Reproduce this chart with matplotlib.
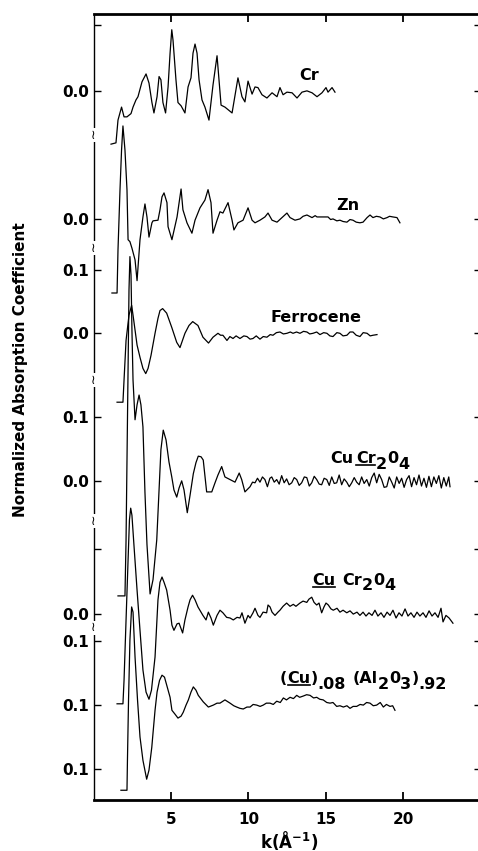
import matplotlib
matplotlib.use("Agg")
import matplotlib.pyplot as plt
from matplotlib.lines import Line2D

plt.rcParams['font.family'] = ['DejaVu Sans']
plt.rcParams['font.weight'] = 'bold'
plt.rcParams['mathtext.fontset'] = 'dejavusans'
plt.rcParams['mathtext.default'] = 'bf'

# ---------------- data: (k [1/A], normalized absorption relative to curve's zero) -------------
CR = [(1.13,-0.082),(1.45,-0.080),(1.58,-0.045),(1.81,-0.025),(1.97,-0.040),(2.16,-0.040),
      (2.42,-0.035),(2.55,-0.025),(2.74,-0.014),(2.87,-0.009),(3.13,0.014),(3.39,0.026),
      (3.58,0.012),(3.77,-0.018),(3.90,-0.034),(4.10,-0.009),(4.23,0.022),(4.35,0.017),
      (4.48,-0.018),(4.65,-0.034),(4.81,0.006),(4.94,0.058),(5.05,0.094),(5.13,0.078),
      (5.32,0.017),(5.45,-0.018),(5.65,-0.023),(5.90,-0.034),(6.10,0.006),(6.29,0.020),
      (6.42,0.058),(6.55,0.072),(6.68,0.058),(6.81,0.017),(7.00,-0.014),(7.19,-0.025),
      (7.45,-0.045),(7.71,0.009),(7.97,0.054),(8.23,-0.022),(8.48,-0.025),(8.94,-0.034),
      (9.32,0.020),(9.58,-0.009),(9.77,-0.017),(9.97,0.015),(10.23,-0.005),(10.42,0.006),
      (10.61,0.005),(10.87,-0.006),(11.19,-0.011),(11.52,-0.003),(11.84,-0.009),(12.03,0.005),
      (12.23,-0.006),(12.48,-0.002),(12.81,-0.003),(13.13,-0.011),(13.45,-0.002),(13.77,0.000),
      (14.10,-0.003),(14.42,-0.009),(14.74,-0.003),(15.00,0.005),(15.13,-0.002),(15.39,0.005),
      (15.58,-0.002)]

ZN = [(1.19,-0.114),(1.52,-0.114),(1.58,-0.048),(1.71,0.045),(1.81,0.106),(1.90,0.143),
      (2.03,0.106),(2.16,0.045),(2.23,-0.032),(2.35,-0.035),(2.48,-0.045),(2.68,-0.063),
      (2.81,-0.095),(3.00,-0.032),(3.19,0.003),(3.32,0.023),(3.45,0.003),(3.58,-0.028),
      (3.77,-0.006),(3.84,-0.003),(4.16,-0.002),(4.29,0.014),(4.42,0.034),(4.55,0.040),
      (4.74,0.025),(4.81,-0.012),(5.06,-0.032),(5.39,0.003),(5.65,0.046),(5.77,0.014),
      (6.03,-0.006),(6.35,-0.022),(6.55,-0.002),(6.87,0.017),(7.19,0.029),(7.39,0.045),
      (7.58,0.025),(7.71,-0.022),(7.97,-0.002),(8.16,0.011),(8.35,0.009),(8.68,0.025),
      (8.94,-0.002),(9.06,-0.017),(9.32,-0.006),(9.65,-0.002),(9.97,0.017),(10.23,-0.002),
      (10.42,-0.006),(10.74,-0.002),(11.06,0.003),(11.26,0.009),(11.52,-0.002),(11.84,-0.005),
      (12.16,0.002),(12.48,0.009),(12.68,0.002),(13.00,-0.002),(13.32,0.000),(13.52,0.004),
      (13.77,0.006),(14.10,0.002),(14.30,0.005),(14.42,0.003),(14.81,0.003),(15.13,0.003),
      (15.30,-0.001),(15.45,0.000),(15.70,-0.003),(15.90,-0.002),(16.10,-0.004),(16.35,-0.005),
      (16.55,-0.001),(16.74,-0.002),(16.95,-0.005),(17.19,-0.006),(17.39,-0.005),(17.65,0.002),
      (17.84,0.006),(18.03,0.002),(18.25,0.004),(18.48,0.003),(18.70,0.000),(18.94,0.002),
      (19.10,0.004),(19.32,0.003),(19.58,0.002),(19.77,-0.006)]

FERROCENE = [(1.52,-0.106),(1.90,-0.106),(1.97,-0.072),(2.10,-0.011),(2.29,0.028),(2.46,0.043),
      (2.55,0.028),(2.68,0.005),(2.81,-0.018),(3.00,-0.037),(3.19,-0.054),(3.37,-0.062),
      (3.52,-0.054),(3.71,-0.034),(3.97,0.000),(4.16,0.023),(4.29,0.035),(4.46,0.038),
      (4.72,0.031),(5.05,0.009),(5.37,-0.014),(5.58,-0.022),(5.90,0.000),(6.16,0.012),
      (6.40,0.018),(6.74,0.012),(7.06,-0.006),(7.42,-0.015),(7.71,-0.006),(8.03,0.000),
      (8.20,-0.003),(8.35,-0.003),(8.61,-0.011),(8.80,-0.005),(9.00,-0.008),(9.20,-0.004),
      (9.45,-0.008),(9.70,-0.004),(9.90,-0.005),(10.10,-0.009),(10.29,-0.008),(10.50,-0.004),
      (10.74,-0.009),(10.95,-0.005),(11.19,-0.006),(11.40,-0.002),(11.58,-0.003),(11.80,0.001),
      (12.03,0.002),(12.25,-0.001),(12.48,0.000),(12.70,0.002),(12.87,0.000),(13.10,0.002),
      (13.32,0.000),(13.55,0.003),(13.77,0.002),(13.95,-0.001),(14.16,0.000),(14.40,0.002),
      (14.61,-0.002),(14.85,0.001),(15.06,0.000),(15.25,-0.004),(15.45,-0.005),(15.70,0.001),
      (15.90,0.000),(16.10,-0.004),(16.35,-0.003),(16.55,0.002),(16.74,0.002),(16.95,-0.003),
      (17.19,-0.005),(17.40,0.001),(17.65,0.000),(17.85,-0.004),(18.03,-0.003),(18.29,-0.002)]

CUCR2O4_CR = [(1.58,-0.177),(2.03,-0.177),(2.10,-0.091),(2.16,0.032),(2.23,0.186),(2.29,0.294),
      (2.35,0.345),(2.42,0.317),(2.48,0.232),(2.55,0.155),(2.68,0.094),(2.81,0.117),
      (2.94,0.132),(3.06,0.117),(3.19,0.083),(3.32,-0.018),(3.45,-0.098),(3.65,-0.174),
      (3.84,-0.152),(4.08,-0.091),(4.23,-0.014),(4.35,0.048),(4.50,0.078),(4.68,0.063),
      (4.87,0.029),(5.05,0.006),(5.19,-0.014),(5.37,-0.025),(5.52,-0.011),(5.69,0.000),
      (5.84,-0.014),(6.05,-0.049),(6.23,-0.022),(6.44,0.011),(6.61,0.028),(6.76,0.038),
      (6.94,0.037),(7.08,0.032),(7.30,-0.017),(7.63,-0.017),(7.84,-0.003),(8.03,0.009),
      (8.27,0.022),(8.48,0.006),(8.81,0.002),(9.13,-0.002),(9.40,0.012),(9.56,0.002),
      (9.77,-0.017),(10.10,-0.009),(10.26,-0.002),
      (10.42,-0.003),(10.58,0.004),(10.74,-0.002),(10.90,0.006),(11.06,0.002),(11.22,-0.009),
      (11.38,0.004),(11.50,0.006),(11.66,-0.002),(11.82,0.002),(11.98,-0.005),(12.14,0.008),
      (12.30,-0.003),(12.46,0.003),(12.62,-0.006),(12.79,-0.003),(12.95,0.005),(13.11,0.002),
      (13.27,-0.007),(13.43,-0.003),(13.60,0.006),(13.76,0.005),(13.92,-0.008),(14.08,-0.003),
      (14.24,0.007),(14.40,0.002),(14.56,-0.005),(14.72,-0.006),(14.88,0.004),(15.05,0.002),
      (15.21,-0.007),(15.37,0.006),(15.53,-0.004),(15.69,-0.003),(15.85,0.009),(16.01,-0.006),
      (16.17,0.003),(16.34,-0.002),(16.50,-0.009),(16.66,-0.003),(16.82,0.005),(16.98,-0.002),
      (17.14,-0.006),(17.30,0.006),(17.46,-0.004),(17.63,0.002),(17.79,-0.008),(17.95,0.005),
      (18.11,0.012),(18.27,-0.003),(18.43,0.010),(18.59,0.002),(18.75,-0.010),(18.92,-0.009),
      (19.08,0.006),(19.24,-0.002),(19.40,-0.011),(19.56,0.006),(19.72,-0.004),(19.88,0.004),
      (20.04,-0.010),(20.20,0.002),(20.36,0.008),(20.52,-0.009),(20.68,0.005),(20.84,-0.006),
      (21.00,0.009),(21.16,-0.008),(21.32,0.004),(21.48,-0.010),(21.64,0.007),(21.80,-0.009),
      (21.96,0.006),(22.12,-0.004),(22.28,0.008),(22.44,-0.011),(22.60,0.005),(22.76,-0.008),
      (22.92,0.006),(23.00,-0.009)]

CUCR2O4_CU = [(1.52,-0.138),(1.90,-0.138),(1.97,-0.102),(2.10,-0.009),(2.23,0.083),(2.32,0.145),
      (2.40,0.163),(2.48,0.152),(2.61,0.106),(2.81,0.037),(3.00,-0.025),(3.19,-0.086),
      (3.39,-0.120),(3.58,-0.131),(3.74,-0.117),(3.97,-0.066),(4.16,0.022),(4.29,0.049),
      (4.42,0.057),(4.55,0.049),(4.72,0.037),(4.94,0.006),(5.06,-0.017),(5.19,-0.025),
      (5.39,-0.015),(5.52,-0.014),(5.75,-0.029),(5.90,-0.009),(6.10,0.011),(6.23,0.022),
      (6.39,0.029),(6.55,0.022),(6.74,0.011),(7.06,-0.002),(7.26,-0.009),(7.41,0.003),
      (7.58,-0.006),(7.73,-0.017),(7.97,-0.002),(8.16,0.006),(8.35,0.002),(8.59,-0.005),
      (8.81,-0.006),(9.02,-0.009),(9.26,-0.005),(9.45,-0.006),(9.58,0.002),(9.77,-0.014),
      (9.97,-0.002),(10.10,-0.006),(10.29,0.002),(10.42,0.009),(10.61,-0.002),(10.74,-0.005),
      (10.94,0.003),(11.17,0.002),(11.26,0.014),(11.39,0.011),(11.52,0.003),(11.71,-0.002),
      (11.90,0.003),(12.03,0.006),(12.23,0.012),(12.46,0.017),(12.68,0.012),(12.89,0.015),
      (13.06,0.012),(13.32,0.017),(13.52,0.020),(13.76,0.018),(13.90,0.023),(14.08,0.026),
      (14.23,0.018),(14.40,0.014),(14.55,0.017),(14.72,0.002),(14.87,0.011),(15.00,0.017),
      (15.15,0.014),(15.32,0.008),(15.47,0.006),(15.71,0.009),(15.90,0.003),(16.10,0.006),
      (16.34,0.002),(16.55,0.005),(16.76,0.000),(17.00,0.003),(17.19,-0.002),(17.39,0.003),
      (17.58,-0.003),(17.77,0.002),(17.97,-0.002),(18.16,0.006),(18.35,-0.003),(18.55,0.002),
      (18.74,-0.005),(18.94,0.003),(19.13,-0.002),(19.32,0.006),(19.52,-0.006),(19.71,0.002),
      (19.90,-0.003),(20.10,0.008),(20.29,-0.003),(20.48,0.002),(20.68,-0.005),(20.87,0.003),
      (21.06,-0.003),(21.26,0.002),(21.45,-0.005),(21.65,0.005),(21.84,-0.003),(22.03,0.002),
      (22.23,-0.005),(22.42,0.009),(22.55,-0.012),(22.74,-0.002),(22.94,-0.006),(23.19,-0.014)]

CU_AL2O3 = [(1.77,-0.131),(2.16,-0.131),(2.19,-0.085),(2.26,0.008),(2.35,0.100),(2.46,0.151),
      (2.55,0.143),(2.68,0.074),(2.84,0.008),(3.00,-0.049),(3.19,-0.085),(3.43,-0.114),
      (3.58,-0.100),(3.76,-0.065),(3.84,-0.043),(3.97,-0.008),(4.10,0.020),(4.26,0.038),
      (4.42,0.046),(4.58,0.043),(4.72,0.031),(4.94,0.012),(5.06,-0.008),(5.26,-0.014),
      (5.45,-0.020),(5.65,-0.017),(5.79,-0.011),(5.97,0.000),(6.12,0.008),(6.29,0.020),
      (6.44,0.028),(6.61,0.023),(6.76,0.015),(7.08,0.005),(7.41,-0.003),(7.73,0.000),
      (7.97,0.003),(8.16,0.003),(8.48,0.008),(8.81,0.003),(9.05,-0.001),(9.24,-0.003),
      (9.45,-0.005),(9.66,-0.006),(9.90,-0.003),(10.10,-0.003),(10.30,0.001),(10.53,0.000),
      (10.75,-0.002),(10.95,0.000),(11.15,0.003),(11.39,0.003),(11.60,0.001),(11.82,0.006),
      (12.05,0.004),(12.25,0.011),(12.45,0.008),(12.68,0.012),(12.90,0.010),(13.11,0.015),
      (13.30,0.012),(13.54,0.014),(13.75,0.016),(13.97,0.015),(14.20,0.011),(14.40,0.012),
      (14.60,0.009),(14.82,0.008),(15.05,0.004),(15.26,0.003),(15.45,0.004),(15.69,-0.002),
      (15.90,-0.001),(16.12,-0.003),(16.35,-0.001),(16.55,-0.005),(16.75,-0.002),(16.98,-0.002),
      (17.20,0.001),(17.41,0.000),(17.62,0.004),(17.84,0.003),(18.05,-0.001),(18.27,0.000),
      (18.50,0.004),(18.70,-0.003),(18.90,0.001),(19.13,-0.002),(19.30,-0.001),(19.45,-0.008)]

CURVES = [CR, ZN, FERROCENE, CUCR2O4_CR, CUCR2O4_CU, CU_AL2O3]
OFFSETS = [1.091, 0.894, 0.718, 0.491, 0.286, 0.146]

YTICKS = [1.192, 1.091, 0.894, 0.815, 0.718, 0.589, 0.491, 0.386, 0.286, 0.245, 0.146, 0.048]
YTICKLABELS = ['', '0.0', '0.0', '0.1', '0.0', '0.1', '0.0', '', '0.0', '0.1', '0.1', '0.1']
XTICKS = [5, 10, 15, 20]
XTICKLABELS = ['5', '10', '15', '20']
BREAKS = [1.023, 0.849, 0.646, 0.429, 0.265]

# simple labels: (text, k, y)
SIMPLE_LABELS = [('Cr', 13.9, 1.115), ('Zn', 16.42, 0.914), ('Ferrocene', 14.35, 0.742)]
# composite labels: start k, baseline y, segments (text, dx pt, dy pt, underline)
COMPOSITE_LABELS = [
    (15.26, 0.518, [('Cu', 0, 0, False), ('Cr', 2, 0, True), ('2', 0, -4, False),
                    ('0', 0, 0, False), ('4', 0, -4, False)]),
    (14.10, 0.331, [('Cu', 0, 0, True), ('Cr', 5, 0, False), ('2', 0, -4, False),
                    ('0', 0, 0, False), ('4', 0, -4, False)]),
    (12.03, 0.180, [('(', 0, 0, False), ('Cu', 0, 0, True), (')', 0, 0, False),
                    ('.08', 0, -4, False), ('(Al', 5, 0, False), ('2', 0, -4, False),
                    ('0', 0, 0, False), ('3', 0, -4, False), (')', 0, 0, False),
                    ('.92', 0, -4, False)]),
]

# ---------------- figure ----------------
W, H = 478, 851
fig = plt.figure(figsize=(W / 100, H / 100), dpi=100)
ax = fig.add_axes([93.5 / W, 51 / H, 387.5 / W, 786.5 / H])
ax.set_xlim(0, 25)
ax.set_ylim(0, 1.21)

for data, off in zip(CURVES, OFFSETS):
    ks = [p[0] for p in data]
    vs = [p[1] + off for p in data]
    ax.plot(ks, vs, color='black', lw=0.9, solid_joinstyle='round')

ax.set_xticks(XTICKS)
ax.set_xticklabels(XTICKLABELS)
ax.set_yticks(YTICKS)
ax.set_yticklabels(YTICKLABELS)
ax.tick_params(axis='x', direction='in', length=6, width=1.3, top=True, labelsize=11, pad=8.5)
ax.tick_params(axis='y', direction='in', length=5, width=1.0, right=True, labelsize=11, pad=3.5)
for lab in ax.get_xticklabels() + ax.get_yticklabels():
    lab.set_fontweight('bold')

ax.spines['top'].set_linewidth(2.0)
ax.spines['bottom'].set_linewidth(2.0)
ax.spines['left'].set_linewidth(1.0)
ax.spines['right'].set_linewidth(1.0)

for b in BREAKS:
    ax.text(0, b, '\u2240', transform=ax.get_yaxis_transform(), ha='center', va='center',
            fontsize=9, fontweight='normal', clip_on=False,
            bbox=dict(facecolor='white', edgecolor='none', pad=0.2))

for txt, k, y in SIMPLE_LABELS:
    ax.text(k, y, txt, ha='center', va='center', fontsize=11.5, fontweight='bold')

underlined = []
for k0, y0, segs in COMPOSITE_LABELS:
    prev = None
    for txt, dx, dy, ul in segs:
        if prev is None:
            t = ax.annotate(txt, xy=(k0, y0), xycoords='data', xytext=(dx, dy),
                            textcoords='offset points', ha='left', va='baseline',
                            fontsize=11.5, fontweight='bold')
        else:
            t = ax.annotate(txt, xy=(1, y0), xycoords=(prev, 'data'), xytext=(dx, dy),
                            textcoords='offset points', ha='left', va='baseline',
                            fontsize=11.5, fontweight='bold')
        if ul:
            underlined.append(t)
        prev = t

fig.text(21 / W, 1 - 370 / H, 'Normalized Absorption Coefficient', rotation=90,
         ha='center', va='center', fontsize=11, fontweight='bold')
fig.text(289 / W, 3 / H, r'$k\left(\AA^{-1}\right)$', ha='center', va='baseline', fontsize=12)

fig.canvas.draw()
r = fig.canvas.get_renderer()
for t in underlined:
    bb = t.get_window_extent(r)
    y = (bb.y0 + 1.0) / (H)
    fig.add_artist(Line2D([(bb.x0 + 0.5) / W, (bb.x1 - 0.5) / W], [y, y],
                          transform=fig.transFigure, color='black', lw=1.2))

fig.savefig('out.png', dpi=100)
